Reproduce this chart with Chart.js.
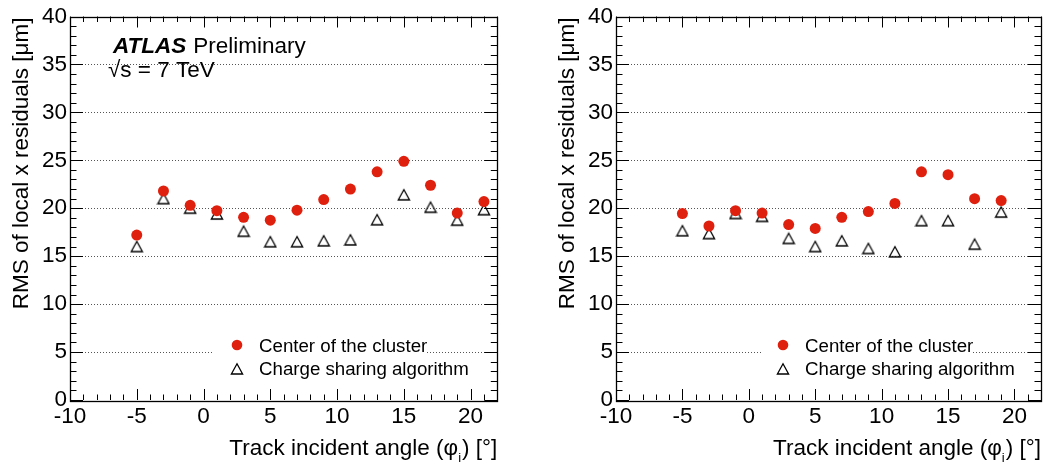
<!DOCTYPE html>
<html>
<head>
<meta charset="utf-8">
<script src="https://cdn.jsdelivr.net/npm/chart.js@4.4.1/dist/chart.umd.min.js"></script>
<style>
  html, body { margin: 0; padding: 0; background: #fff; }
  #wrap { position: relative; width: 1048px; height: 466px; overflow: hidden; }
  canvas { position: absolute; top: 0; }
</style>
</head>
<body>
<div id="wrap">
  <canvas id="c1" width="524" height="466" style="left:0px"></canvas>
  <canvas id="c2" width="524" height="466" style="left:524px"></canvas>
</div>
<script>
// ---------- data ----------
const xTicks = [-10, -5, 0, 5, 10, 15, 20];
const yTicks = [0, 5, 10, 15, 20, 25, 30, 35, 40];

const anglesData = [-5, -3, -1, 1, 3, 5, 7, 9, 11, 13, 15, 17, 19, 21];
const centerData = [17.2, 21.8, 20.3, 19.75, 19.05, 18.75, 19.8, 20.9, 22.0, 23.8, 24.9, 22.4, 19.5, 20.7];
const chargeData = [16.0, 21.0, 20.0, 19.4, 17.6, 16.5, 16.5, 16.6, 16.7, 18.8, 21.4, 20.1, 18.75, 19.85];

const anglesSim = [-5, -3, -1, 1, 3, 5, 7, 9, 11, 13, 15, 17, 19];
const centerSim = [19.45, 18.15, 19.75, 19.5, 18.3, 17.9, 19.05, 19.65, 20.5, 23.8, 23.5, 21.0, 20.8];
const chargeSim = [17.65, 17.35, 19.45, 19.15, 16.85, 16.0, 16.6, 15.8, 15.45, 18.7, 18.7, 16.25, 19.6];

const seriesLabels = ['Center of the cluster', 'Charge sharing algorithm'];
const yTitle = 'RMS of local x residuals [\u03bcm]';
const xTitleParts = ['Track incident angle (\u03c6', 'i', ') [\u00b0]'];

// ---------- styles ----------
const FONT = "'Liberation Sans', Arial, Helvetica, sans-serif";
const RED = '#E0200E';
Chart.defaults.font.family = FONT;
Chart.defaults.color = '#000';

function makeTriangle() {
  const c = document.createElement('canvas');
  c.width = 14; c.height = 14;
  const g = c.getContext('2d');
  g.strokeStyle = '#000';
  g.lineWidth = 1.3;
  g.beginPath();
  g.moveTo(7, 1.8);
  g.lineTo(12.6, 12);
  g.lineTo(1.4, 12);
  g.closePath();
  g.stroke();
  return c;
}
const TRI = makeTriangle();

function pts(xs, ys) { return xs.map((x, i) => ({ x: x, y: ys[i] })); }

// decoration plugin (ROOT-like frame, inner ticks, dotted grid, texts, legend)
function decoPlugin(opt) {
  return {
    id: 'deco',
    beforeDatasetsDraw(chart) {
      const ctx = chart.ctx, a = chart.chartArea;
      const ys = chart.scales.y;
      ctx.save();
      ctx.strokeStyle = '#555';
      ctx.lineWidth = 1;
      ctx.setLineDash([1, 2]);
      yTicks.forEach(v => {
        if (v === ys.min || v === ys.max) return;
        const py = Math.round(ys.getPixelForValue(v)) + 0.5;
        ctx.beginPath(); ctx.moveTo(a.left, py); ctx.lineTo(a.right, py); ctx.stroke();
      });
      ctx.setLineDash([]);
      // legend box (white, hides the grid)
      ctx.fillStyle = '#fff';
      ctx.fillRect(opt.legBox[0], opt.legBox[1], opt.legBox[2], opt.legBox[3]);
      ctx.restore();
    },
    afterDatasetsDraw(chart) {
      const ctx = chart.ctx, a = chart.chartArea;
      const xs = chart.scales.x, ys = chart.scales.y;
      ctx.save();
      ctx.strokeStyle = '#000';
      ctx.lineWidth = 1;
      // ticks
      for (let v = Math.ceil(xs.min); v <= xs.max; v++) {
        const L = (v % 5 === 0) ? 11 : 5.5;
        const px = Math.round(xs.getPixelForValue(v)) + 0.5;
        ctx.beginPath();
        ctx.moveTo(px, a.bottom); ctx.lineTo(px, a.bottom - L);
        ctx.moveTo(px, a.top); ctx.lineTo(px, a.top + L);
        ctx.stroke();
      }
      for (let v = ys.min; v <= ys.max; v++) {
        const L = (v % 5 === 0) ? 13 : 6.5;
        const py = Math.round(ys.getPixelForValue(v)) + 0.5;
        ctx.beginPath();
        ctx.moveTo(a.left, py); ctx.lineTo(a.left + L, py);
        ctx.moveTo(a.right, py); ctx.lineTo(a.right - L, py);
        ctx.stroke();
      }
      // frame
      ctx.lineWidth = 1.3;
      ctx.strokeRect(Math.round(a.left) + 0.5, Math.round(a.top) + 0.5,
                     Math.round(a.right - a.left), Math.round(a.bottom - a.top));

      // ATLAS label
      ctx.fillStyle = '#000';
      ctx.textBaseline = 'alphabetic';
      ctx.textAlign = 'left';
      ctx.font = 'italic bold 22.5px ' + FONT;
      ctx.fillText('ATLAS', opt.atlasX, 53);
      const wA = ctx.measureText('ATLAS').width;
      ctx.font = '22.5px ' + FONT;
      ctx.fillText('Preliminary', opt.atlasX + wA + 7, 53);
      ctx.fillText(opt.line2, opt.line2X, 77);

      // legend
      const ds = chart.data.datasets;
      ctx.font = '18.7px ' + FONT;
      ctx.fillStyle = ds[0].backgroundColor;
      ctx.beginPath(); ctx.arc(opt.legMX, 345, 5.3, 0, Math.PI * 2); ctx.fill();
      ctx.drawImage(TRI, opt.legMX - 7, 369 - 7);
      ctx.fillStyle = '#000';
      ctx.fillText(ds[0].label, opt.legTX, 352);
      ctx.fillText(ds[1].label, opt.legTX, 375);

      // y title
      ctx.save();
      ctx.font = '22.5px ' + FONT;
      ctx.translate(opt.yTitleX, a.top + 1);
      ctx.rotate(-Math.PI / 2);
      ctx.textAlign = 'right';
      ctx.fillText(yTitle, 0, 0);
      ctx.restore();

      // x title with subscript
      ctx.font = '22.5px ' + FONT;
      const w1 = ctx.measureText(xTitleParts[0]).width;
      const w3 = ctx.measureText(xTitleParts[2]).width;
      ctx.font = '13px ' + FONT;
      const w2 = ctx.measureText(xTitleParts[1]).width;
      let x0 = a.right - (w1 + w2 + w3 + 1);
      ctx.font = '22.5px ' + FONT;
      ctx.fillText(xTitleParts[0], x0, 455);
      ctx.font = '13px ' + FONT;
      ctx.fillText(xTitleParts[1], x0 + w1, 462);
      ctx.font = '22.5px ' + FONT;
      ctx.fillText(xTitleParts[2], x0 + w1 + w2 + 1, 455);
      ctx.restore();
    }
  };
}

function makeChart(id, xs, cy, qy, o) {
  return new Chart(document.getElementById(id), {
    type: 'scatter',
    data: {
      datasets: [
        { label: seriesLabels[0], data: pts(xs, cy), backgroundColor: RED, borderWidth: 0,
          pointRadius: 5.5, pointHoverRadius: 5.5, pointStyle: 'circle' },
        { label: seriesLabels[1], data: pts(xs, qy), pointStyle: TRI, pointRadius: 6 }
      ]
    },
    options: {
      responsive: false,
      animation: false,
      events: [],
      layout: { padding: { top: 14, right: o.padRight, left: 0, bottom: 0 } },
      plugins: { legend: { display: false }, tooltip: { enabled: false } },
      scales: {
        x: {
          type: 'linear', min: -10, max: 22,
          afterBuildTicks: s => { s.ticks = xTicks.map(v => ({ value: v })); },
          afterFit: s => { s.height = 66; },
          grid: { display: false, drawTicks: false },
          border: { display: false },
          ticks: { font: { size: 22.5 }, color: '#000', padding: 3, maxRotation: 0, autoSkip: false }
        },
        y: {
          type: 'linear', min: 0, max: 40,
          afterBuildTicks: s => { s.ticks = yTicks.map(v => ({ value: v })); },
          afterFit: s => { s.width = o.yWidth; },
          grid: { display: false, drawTicks: false },
          border: { display: false },
          ticks: { font: { size: 22.5 }, color: '#000', padding: 3, autoSkip: false }
        }
      }
    },
    plugins: [decoPlugin(o)]
  });
}

makeChart('c1', anglesData, centerData, chargeData, {
  padRight: 26.7, yWidth: 70, yTitleX: 27.5,
  atlasX: 113, line2: '\u221as = 7 TeV', line2X: 108,
  legBox: [214, 330, 213, 58], legMX: 237, legTX: 259
});
makeChart('c2', anglesSim, centerSim, chargeSim, {
  padRight: 5.3, yWidth: 92, yTitleX: 49.5,
  atlasX: 658, line2X: 657, line2: 'Simulation\u221as = 7 TeV',
  legBox: [237, 330, 211, 58], legMX: 259, legTX: 281
});
</script>
</body>
</html>
